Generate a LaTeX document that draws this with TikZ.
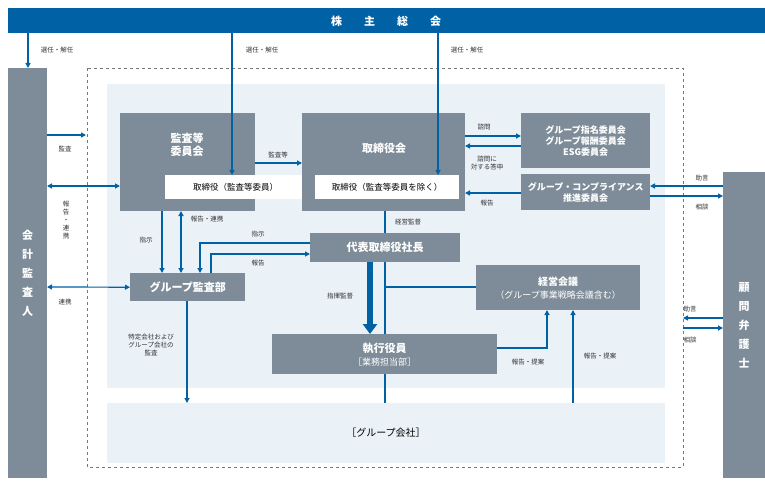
\documentclass[tikz,border=0pt]{standalone}
\usepackage{fontspec}
\setmainfont{Noto Sans CJK JP}
\usetikzlibrary{arrows.meta}
\definecolor{bl}{RGB}{0,98,165}
\definecolor{gr}{RGB}{125,140,152}
\definecolor{lb}{RGB}{234,241,247}
\definecolor{dg}{RGB}{120,120,120}
\begin{document}
\begin{tikzpicture}[x=1pt,y=-1pt,
 box/.style={fill=gr,text=white,font=\bfseries\fontsize{11}{13}\selectfont,align=center,inner sep=0},
 wbox/.style={fill=white,text=black,font=\fontsize{8.5}{10}\selectfont,inner sep=0},
 lab/.style={font=\fontsize{6.5}{8}\selectfont,text=black!80,align=center,inner sep=1pt},
 ar/.style={draw=bl,line width=1.2pt,-{Triangle[length=5pt,width=5pt]}},
 dar/.style={draw=bl,line width=1.2pt,{Triangle[length=5pt,width=5pt]}-{Triangle[length=5pt,width=5pt]}},
 ln/.style={draw=bl,line width=1.2pt}]
\useasboundingbox (0,0) rectangle (765,481);
\fill[white] (0,0) rectangle (765,481);
% regions
\draw[dg,dashed,line width=0.8pt] (87,68) rectangle (683,467);
\fill[lb] (107,84) rectangle (665,388);
\fill[lb] (107,403) rectangle (665,463);
\node[font=\fontsize{10}{12}\selectfont] (grp) at (386,433) {［グループ会社］};
\coordinate (g1) at (187,403);
\coordinate (g2) at (385,403);
\coordinate (g3) at (573,403);
% top
\fill[bl] (8,8) rectangle (765,33);
\node[text=white,font=\bfseries\fontsize{11}{13}\selectfont] (sh) at (386,21) {株\hspace{2em}主\hspace{2em}総\hspace{2em}会};
% side columns
\node[box,minimum width=39,minimum height=410,anchor=north west] (kai) at (8,68) {会\\[6pt]計\\[6pt]監\\[6pt]査\\[6pt]人};
\node[box,minimum width=42,minimum height=306,anchor=north west] (kom) at (723,172) {顧\\[6pt]問\\[6pt]弁\\[6pt]護\\[6pt]士};
% boxes
\node[box,minimum width=135,minimum height=98,anchor=north west] (kan) at (120,113) {};
\node[box] at (187,145) {監査等\\委員会};
\node[wbox,minimum width=141,minimum height=24,anchor=north west] (kanw) at (165,175) {取締役（監査等委員）};
\node[box,minimum width=163,minimum height=98,anchor=north west] (tor) at (302,113) {};
\node[box] at (384,148) {取締役会};
\node[wbox,minimum width=144,minimum height=24,anchor=north west] (torw) at (315,175) {取締役（監査等委員を除く）};
\node[box,font=\bfseries\fontsize{9}{11}\selectfont,minimum width=129,minimum height=55,anchor=north west] (com) at (521,113) {グループ指名委員会\\グループ報酬委員会\\ESG委員会};
\node[box,font=\bfseries\fontsize{9}{11}\selectfont,minimum width=129,minimum height=36,anchor=north west] (cmp) at (521,174) {グループ・コンプライアンス\\推進委員会};
\node[box,minimum width=150,minimum height=29,anchor=north west] (ceo) at (310,233) {代表取締役社長};
\node[box,minimum width=115,minimum height=28,anchor=north west] (aud) at (130,273) {グループ監査部};
\node[box,font=\bfseries\fontsize{10}{13}\selectfont,minimum width=164,minimum height=45,anchor=north west] (mtg) at (476,265) {経営会議\\{\mdseries\fontsize{9}{11}\selectfont（グループ事業戦略会議含む）}};
\node[box,minimum width=225,minimum height=40,anchor=north west] (exe) at (272,334) {執行役員\\{\mdseries\fontsize{9}{11}\selectfont［業務担当部］}};
% arrows from top
\draw[ar] (28,33) -- (28,68);
\node[lab] at (57,50) {選任・解任};
\draw[ar] (232,33) -- (232,175);
\node[lab] at (262,50) {選任・解任};
\draw[ar] (438,33) -- (438,175);
\node[lab] at (467,50) {選任・解任};
% left
\coordinate (dl) at (86,135);
\draw[ar] (47,135) -- (dl);
\node[lab] at (65,149) {監査};
\draw[dar] (47,186) -- (120,186);
\node[lab] at (66,220) {報\\告\\・\\連\\携};
\draw[dar] (47,287) -- (aud.west);
\node[lab] at (65,302) {連携};
% between boards
\draw[ar] (255,163) -- (302,163);
\node[lab] at (278,155) {監査等};
\draw[ar] (465,136) -- (521,136);
\node[lab] at (484,127) {諮問};
\draw[ar] (521,146) -- (465,146);
\node[lab,font=\fontsize{6.5}{7.5}\selectfont] at (487,163) {諮問に\\対する答申};
\draw[ar] (521,193) -- (465,193);
\node[lab] at (487,203) {報告};
\draw[ar] (723,186) -- (650,186);
\draw[ar] (650,196) -- (723,196);
\node[lab] at (702,178) {助言};
\node[lab] at (702,207) {相談};
\coordinate (r1) at (683,318); \coordinate (r2) at (683,328);
\draw[ar] (723,318) -- (r1);
\draw[ar] (r2) -- (723,328);
\node[lab] at (690,309) {助言};
\node[lab] at (690,340) {相談};
% audit dept
\draw[ar] (162,211) -- (162,273);
\node[lab] at (146,240) {指示};
\draw[dar] (181,211) -- (181,273);
\node[lab] at (207,219) {報告・連携};
\draw[ar] (310,243) -- (200,243) -- (200,273);
\node[lab] at (258,234) {指示};
\draw[ar] (211,273) -- (211,254) -- (310,254);
\node[lab] at (258,263) {報告};
\draw[ar] (187,301) -- (g1);
\node[lab] at (151,345) {特定会社および\\グループ会社の\\監査};
% board line
\draw[ln] (385,211) -- (385,233);
\node[lab] at (408,222) {経営監督};
\draw[ln] (385,262) -- (385,334);
\draw[ln] (385,287) -- (476,287);
\draw[ln] (385,374) -- (g2);
\draw[draw=bl,line width=6pt,-{Triangle[length=10pt,width=14pt]}] (370,262) -- (370,334);
\node[lab] at (340,296) {指揮監督};
\draw[ar] (497,348) -- (547,348) -- (547,310);
\node[lab] at (528,362) {報告・提案};
\draw[ar] (g3) -- (573,310);
\node[lab] at (600,356) {報告・提案};
\end{tikzpicture}
\end{document}
